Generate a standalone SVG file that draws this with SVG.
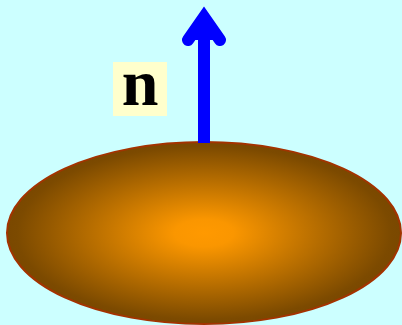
<svg xmlns="http://www.w3.org/2000/svg" width="402" height="325" viewBox="0 0 402 325">
  <defs>
    <radialGradient id="g" cx="0.5" cy="0.5" r="0.5">
      <stop offset="0" stop-color="#ff9900"/>
      <stop offset="0.15" stop-color="#fa9600"/>
      <stop offset="0.95" stop-color="#7c4a00"/>
      <stop offset="1" stop-color="#7a4800"/>
    </radialGradient>
    <style>
      .lbl { font-family: "Liberation Serif", "Times New Roman", serif; font-weight: bold; font-size: 66px; fill: #000; }
      .arrow { stroke: #0000ff; stroke-width: 12; fill: #0000ff; }
    </style>
  </defs>
  <rect x="0" y="0" width="402" height="325" fill="#ccffff"/>
  <g id="surface">
    <ellipse cx="204" cy="233" rx="197" ry="91" fill="url(#g)" stroke="#a33300" stroke-width="2"/>
  </g>
  <g id="connectors">
    <line class="arrow" x1="204" y1="143" x2="204" y2="24"/>
    <polyline class="arrow" points="188,40 204,17 220,40" stroke-linecap="round" stroke-linejoin="miter"/>
  </g>
  <g id="label-n">
    <rect x="113" y="62" width="54" height="54" fill="#ffffcc"/>
    <text class="lbl" x="140" y="105" text-anchor="middle">n</text>
  </g>
</svg>
